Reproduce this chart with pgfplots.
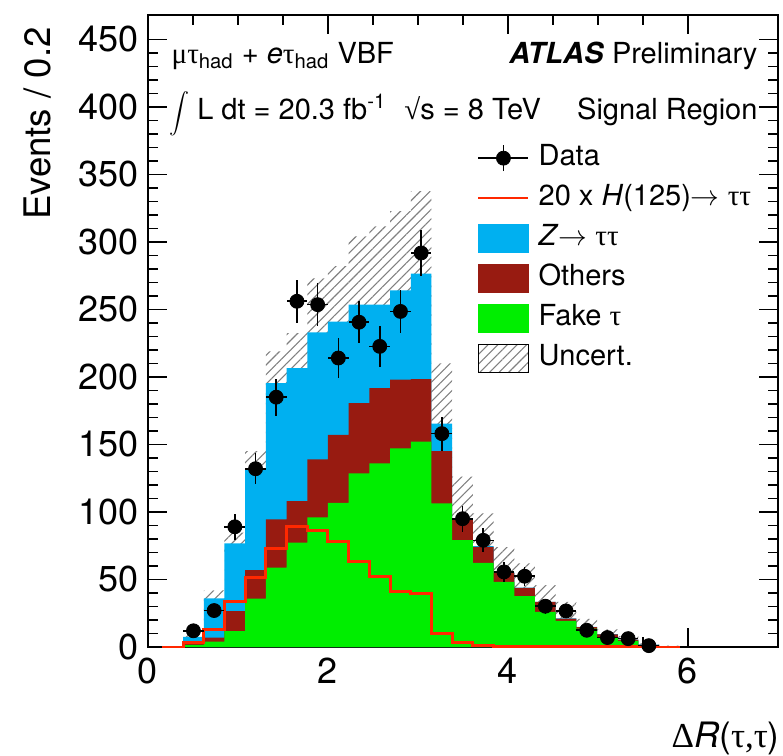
\documentclass[border=0pt]{standalone}
\usepackage{pgfplots}
\pgfplotsset{compat=1.18}
\usepackage{pgfplotstable}
\usepackage{fontspec}
\setmainfont{TeX Gyre Heros}
\newfontfamily\gr{Liberation Serif}
\usetikzlibrary{calc,patterns,patterns.meta}
\usepgfplotslibrary{fillbetween}
\definecolor{zblue}{RGB}{0,176,240}
\definecolor{othred}{RGB}{152,27,17}
\definecolor{fakegreen}{RGB}{0,238,0}
\definecolor{sigred}{RGB}{255,40,0}

% left bin edge, stacked tops (Fake, +Others, +Ztautau), uncertainty band, 20xH signal
\pgfplotstableread{
x     G      O      Z      up     lo     sig
0.16  0      0      0      0      0      0
0.39  1.5    3      7.5    9.5    5.5    3.5
0.62  4      7      36     42     30     12.8
0.85  11.7   26.5   76.7   84.7   68.7   33.6
1.08  35.9   56.9   131    145    117    51.8
1.31  58.8   94.5   195.4  218.9  171.9  73
1.54  77.3   108    206.5  232.5  180.5  89
1.77  96     139    233    273    193    86.6
2.00  106.8  157    241    282    200    77.9
2.23  128.6  180.6  253.5  304    203    63
2.46  136    191.7  253.5  311.5  195.5  52.4
2.69  147    197.9  264.1  322.7  205.5  40.9
2.92  152    198.4  276.5  337.5  215.5  39.3
3.15  106.4  145    165.5  210    121    10
3.38  79.2   94     95.2   126.2  64.2   3
3.61  62.3   74.2   74.7   99     50.4   0.8
3.84  48.2   54.9   55.2   74     36.4   0.4
4.07  37.6   43.8   44     62     26     0.3
4.30  26     33.4   33.5   45.8   21.2   0.2
4.53  19.3   21     21.2   33.4   9      0.2
4.76  13.6   14.8   14.9   20.9   8.9    0.1
4.99  7.4    9.4    9.5    13     6      0.1
5.22  4.5    5.4    5.5    8      3      0.1
5.45  1.3    1.6    1.7    2.7    0.7    0
5.68  0.5    0.6    0.6    1.1    0.1    0
5.91  0.5    0.6    0.6    1.1    0.1    0
}\hist

\pgfplotstableread{
x      y      ex     ey
0.505  12     0.115  3.5
0.735  27     0.115  5.2
0.965  89     0.115  9.4
1.195  132    0.115  11.5
1.425  185    0.115  13.6
1.655  256    0.115  16
1.885  253.5  0.115  15.9
2.115  214    0.115  14.6
2.345  240.5  0.115  15.5
2.575  222.6  0.115  14.9
2.805  248.5  0.115  15.8
3.035  291.8  0.115  17.1
3.265  158    0.115  12.6
3.495  95     0.115  9.7
3.725  79     0.115  8.9
3.955  55.6   0.115  7.5
4.185  52.4   0.115  7.2
4.415  30.2   0.115  5.5
4.645  26.7   0.115  5.2
4.875  12.4   0.115  3.5
5.105  7      0.115  2.6
5.335  6.2    0.115  2.5
5.565  1      0.115  1
}\data

\begin{document}
\begin{tikzpicture}
\begin{axis}[
  name=ax,
  scale only axis,
  width=315pt, height=316pt,
  xmin=0, xmax=7, ymin=0, ymax=468,
  axis line style={line width=0.75pt},
  xtick={0,2,4,6}, minor x tick num=3,
  ytick={0,50,...,450}, minor y tick num=4,
  xtick pos=both, ytick pos=both,
  xticklabel pos=lower, yticklabel pos=left,
  tick align=inside,
  major tick length=9.5pt, minor tick length=5pt,
  tick style={line width=0.75pt, black},
  /pgf/number format/assume math mode=true,
  ticklabel style={font=\fontsize{18}{18}\selectfont},
  xticklabel style={yshift=-2pt},
  yticklabel style={xshift=-1pt},
  legend style={at={(0.522,0.801)}, anchor=north west, draw=none, fill=none,
    inner sep=0pt, font=\fontsize{14.5}{14.5}\selectfont,
    nodes={text height=11pt, text depth=4pt, inner sep=1pt},
    row sep=3pt, cells={anchor=west},
    /tikz/every odd column/.style={column sep=3.5pt}},
  legend cell align=left,
]
% stacked histograms
\addplot[const plot, fill=zblue, draw=none, forget plot] table[x=x,y=Z]{\hist} \closedcycle;
\addplot[const plot, fill=othred, draw=none, forget plot] table[x=x,y=O]{\hist} \closedcycle;
\addplot[const plot, fill=fakegreen, draw=none, forget plot] table[x=x,y=G]{\hist} \closedcycle;
% uncertainty band
\addplot[const plot, draw=none, name path=up, forget plot] table[x=x,y=up]{\hist};
\addplot[const plot, draw=none, name path=lo, forget plot] table[x=x,y=lo]{\hist};
\addplot[pattern={Lines[angle=45,distance=3.4pt,line width=0.55pt]}, pattern color=black!50, draw=none, forget plot] fill between[of=up and lo];
% signal
\addplot[const plot, sigred, line width=1.5pt, forget plot] table[x=x,y=sig]{\hist};
% data
\addplot[only marks, mark=*, mark size=3.5pt, black, forget plot,
  error bars/.cd, x dir=both, x explicit, y dir=both, y explicit,
  error mark=none, error bar style={line width=0.8pt, black}]
  table[x=x,y=y,x error=ex,y error=ey]{\data};

\addlegendimage{legend image code/.code={
  \draw[black,line width=0.8pt] (0pt,0pt) -- (25pt,0pt);
  \draw[black,line width=0.8pt] (12.5pt,-6.5pt) -- (12.5pt,6.5pt);
  \fill[black] (12.5pt,0pt) circle (3.5pt);}}
\addlegendentry{Data}
\addlegendimage{legend image code/.code={
  \draw[sigred,line width=1.2pt] (0pt,0pt) -- (25pt,0pt);}}
\addlegendentry{20 x \textit{H}(125)$\rightarrow$ {\gr ττ}}
\addlegendimage{legend image code/.code={
  \fill[zblue] (0pt,-7pt) rectangle (25pt,7pt);}}
\addlegendentry{\textit{Z}$\rightarrow$ {\gr ττ}}
\addlegendimage{legend image code/.code={
  \fill[othred] (0pt,-7pt) rectangle (25pt,7pt);}}
\addlegendentry{Others}
\addlegendimage{legend image code/.code={
  \fill[fakegreen] (0pt,-7pt) rectangle (25pt,7pt);}}
\addlegendentry{Fake {\gr τ}}
\addlegendimage{legend image code/.code={
  \fill[pattern={Lines[angle=45,distance=3.4pt,line width=0.55pt]}, pattern color=black!50] (0pt,-7pt) rectangle (25pt,7pt);}}
\addlegendentry{Uncert.}

% annotations
\node[anchor=base west, font=\fontsize{14.5}{14.5}\selectfont, inner sep=0pt]
  at (rel axis cs:0.037,0.9236) {{\gr μτ}\textsubscript{had} + \textit{e}{\gr τ}\textsubscript{had} VBF};
\node[anchor=base east, font=\fontsize{14.5}{14.5}\selectfont, inner sep=0pt]
  at (rel axis cs:0.968,0.9236) {\textbf{\textit{ATLAS}} Preliminary};
\node[anchor=base west, font=\fontsize{14.5}{14.5}\selectfont, inner sep=0pt]
  at (rel axis cs:0.033,0.835) {{\fontsize{11}{11}\selectfont$\displaystyle\int$} L dt = 20.3 fb\textsuperscript{-1}\hspace{9pt}{\gr √}s = 8 TeV};
\node[anchor=base east, font=\fontsize{14.5}{14.5}\selectfont, inner sep=0pt]
  at (rel axis cs:0.968,0.835) {Signal Region};
\coordinate (bbsw) at (rel axis cs:0,0);
\coordinate (bbne) at (rel axis cs:1,1);
\coordinate (bbnw) at (rel axis cs:0,1);
\coordinate (bbse) at (rel axis cs:1,0);
\end{axis}
\node[anchor=base east, font=\fontsize{18.3}{18.3}\selectfont, inner sep=0pt, xshift=-48.5pt, yshift=-6pt, rotate=90]
  at (bbnw) {Events / 0.2};
\node[anchor=base east, font=\fontsize{17.5}{17.5}\selectfont, inner sep=0pt, xshift=1pt, yshift=-50pt]
  at (bbse) {{\gr Δ}\textit{R}({\gr τ,τ})};
\pgfresetboundingbox
\useasboundingbox ($(bbsw)+(-74pt,-54.5pt)$) rectangle ($(bbne)+(2.5pt,7.5pt)$);
\end{tikzpicture}
\end{document}
